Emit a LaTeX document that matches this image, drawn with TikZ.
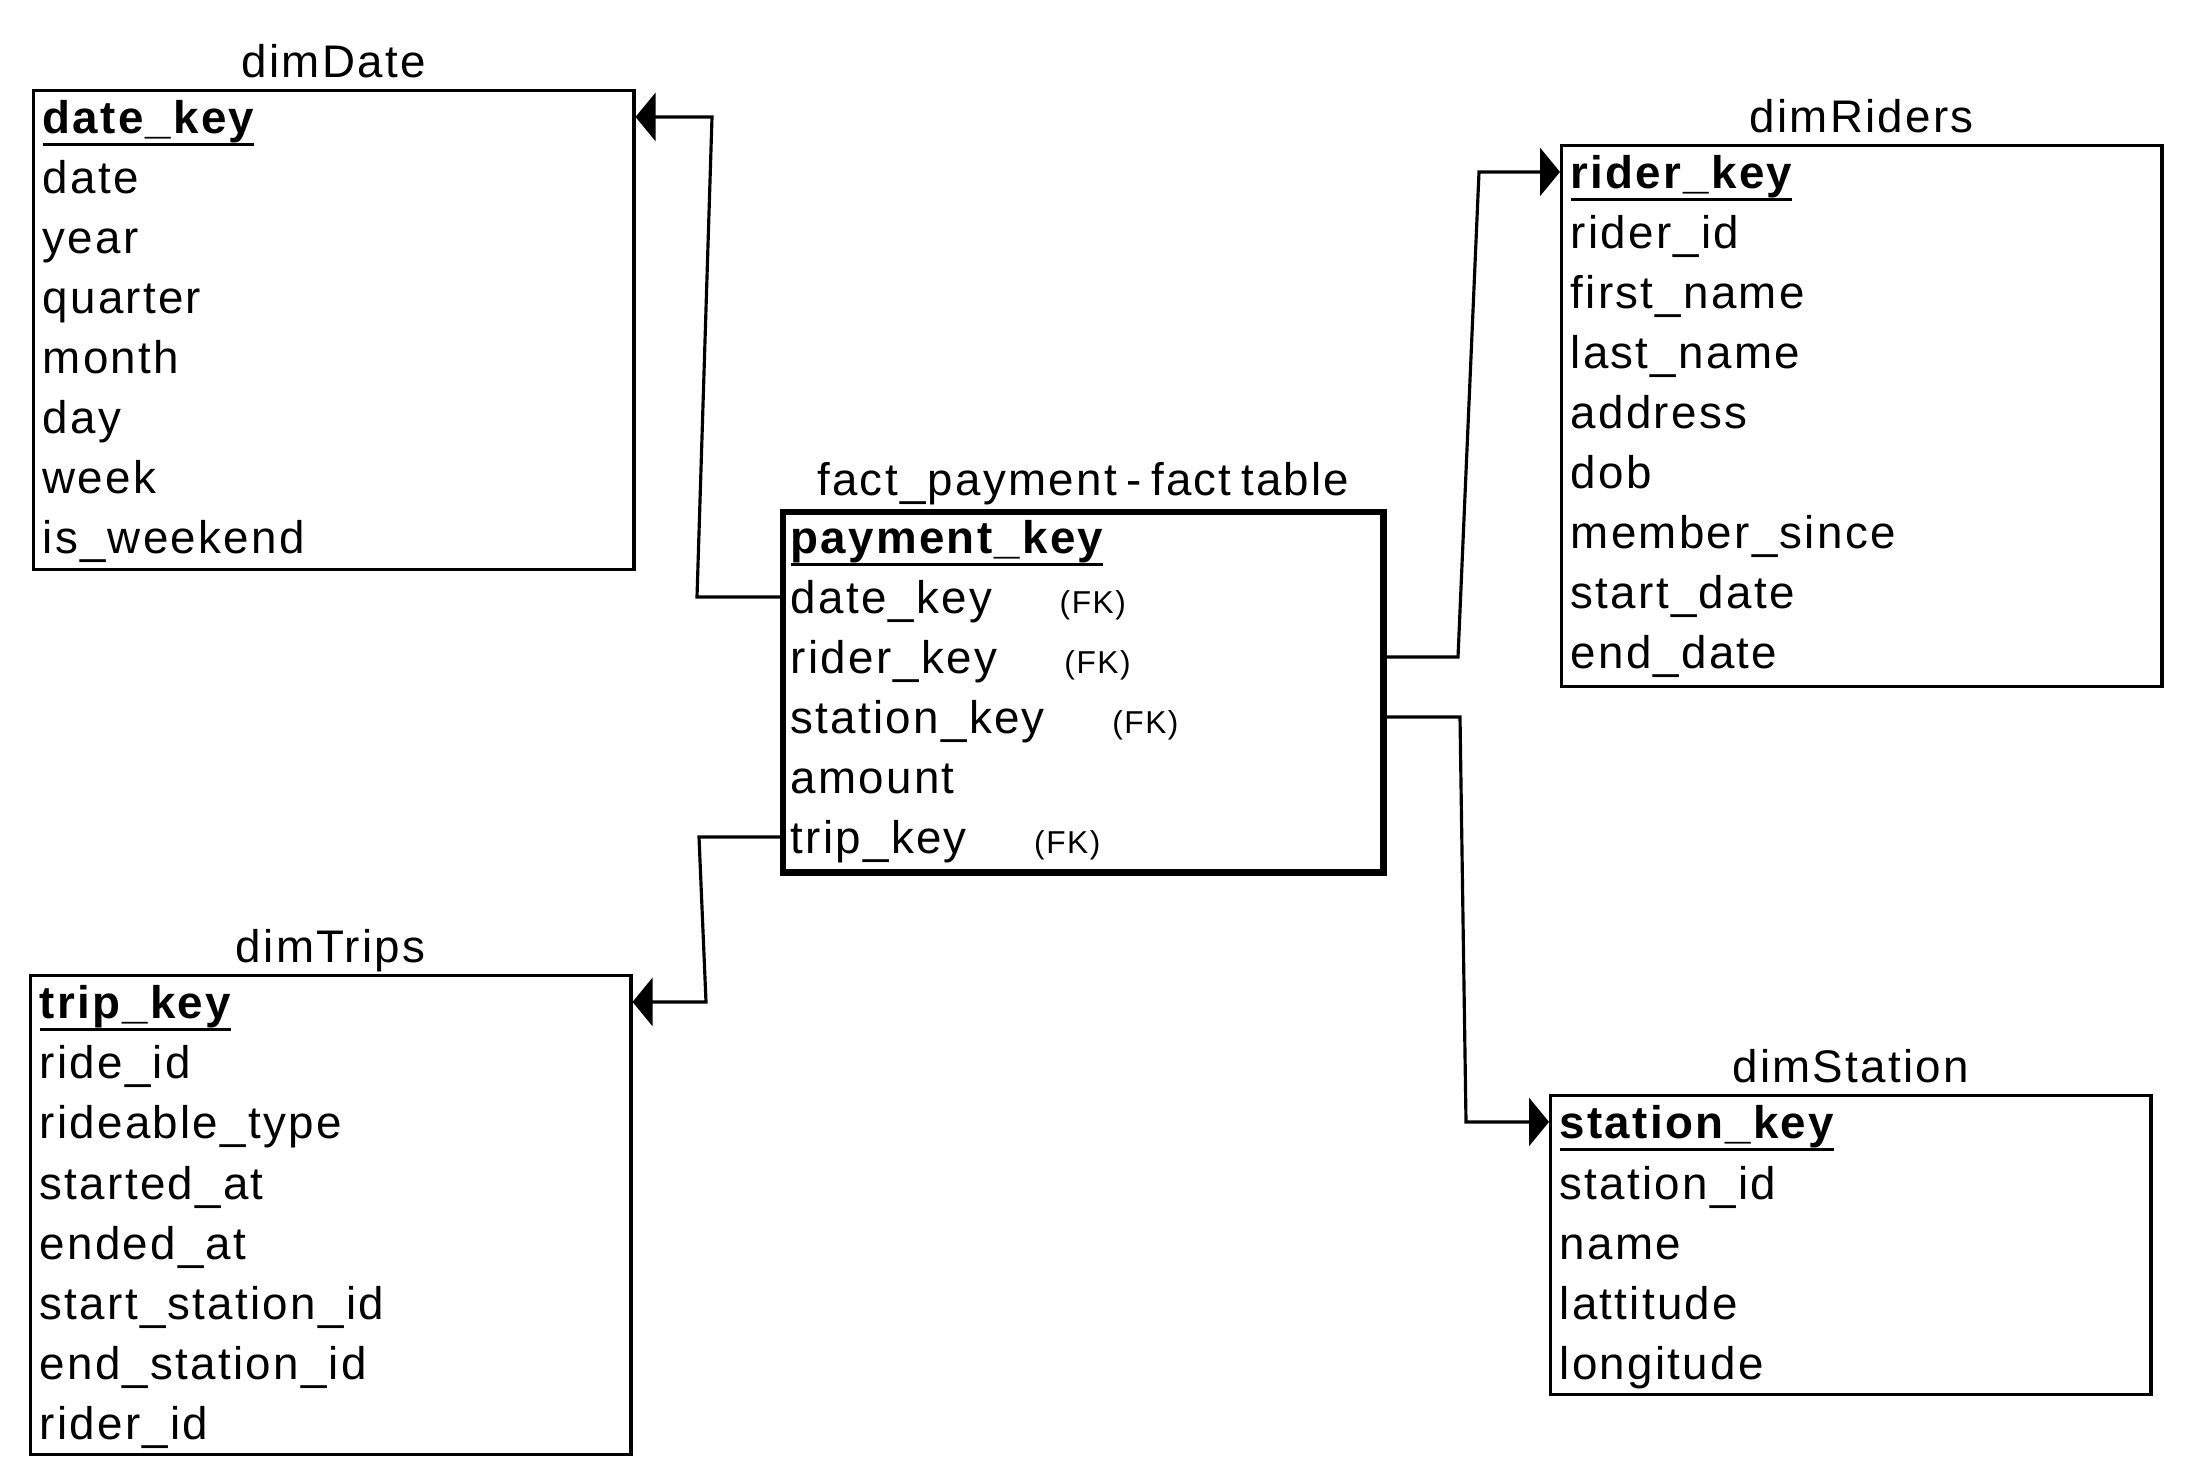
\documentclass[tikz,border=0pt]{standalone}
\usepackage{fontspec}
\setmainfont{Liberation Sans}[LetterSpace=5]
\usetikzlibrary{positioning, arrows.meta}

\newcommand\tableFont{\fontsize{13}{15.6}\selectfont}
\newcommand\fkFont{\fontsize{9}{10.8}\selectfont}
\newcommand\pkName[1]{\setbox0=\hbox{#1}\rlap{\rule[-3.3pt]{\wd0}{.8pt}}\box0}

\tikzset{
	dimTable/.style={draw, line width=.9pt, minimum width=6cm, inner sep=0pt, anchor=north west},
	factTable/.style={dimTable, line width=1.8pt},
	tableName/.style={anchor=base, inner sep=0pt, font={\tableFont\spaceskip=2.7pt}},
	field/.style={anchor=base west, inner sep=0pt, text height=11.5pt, text depth=1.8pt, font=\tableFont},
	keyField/.style={field, font=\tableFont\bfseries},
	fkTag/.style={anchor=base west, inner sep=0pt, font=\fkFont},
	relation/.style={line width=.9pt, -{Triangle[length=2mm, width=4.8mm]}}
}

\begin{document}
\begin{tikzpicture}[x=0.01cm, y=-0.01cm]
\useasboundingbox (0,0) rectangle (2188,1480);

% tables
\node[dimTable, minimum height=4.79cm] (dimDate) at (32,89) {};
\node[factTable, minimum height=3.6cm] (fact) at (780,509) {};
\node[dimTable, minimum height=5.41cm] (dimRiders) at (1560,144) {};
\node[dimTable, minimum height=4.79cm] (dimTrips) at (29,974) {};
\node[dimTable, minimum height=2.99cm] (dimStation) at (1549,1094) {};

\node[tableName] (dimDateName) at ([yshift=1.1mm]dimDate.north) {dimDate};
\node[tableName] (factName) at ([yshift=1.3mm]fact.north) {fact\_payment - fact table};
\node[tableName] (dimRidersName) at ([yshift=1.1mm]dimRiders.north) {dimRiders};
\node[tableName] (dimTripsName) at ([yshift=1.1mm]dimTrips.north) {dimTrips};
\node[tableName] (dimStationName) at ([yshift=1.1mm]dimStation.north) {dimStation};

% dimDate
\node[keyField] (dimDate-1) at ([shift={(10,45)}]dimDate.north west) {\pkName{date\_key}};
\foreach \f [count=\i from 2] in {date, year, quarter, month, day, week, is\_weekend}
	\node[field] (dimDate-\i) at ([shift={(10,60*\i-15)}]dimDate.north west) {\f};

% fact_payment
\node[keyField] (fact-1) at ([shift={(10,45)}]fact.north west) {\pkName{payment\_key}};
\foreach \f [count=\i from 2] in {date\_key, rider\_key, station\_key, amount, trip\_key}
	\node[field] (fact-\i) at ([shift={(10,60*\i-15)}]fact.north west) {\f};
\foreach \i in {2,3,4,6}
	\node[fkTag] (fact-\i-fk) at ([xshift=6.6mm]fact-\i.base east) {(FK)};

% dimRiders
\node[keyField] (dimRiders-1) at ([shift={(10,45)}]dimRiders.north west) {\pkName{rider\_key}};
\foreach \f [count=\i from 2] in {rider\_id, first\_name, last\_name, address, dob, member\_since, start\_date, end\_date}
	\node[field] (dimRiders-\i) at ([shift={(10,60*\i-15)}]dimRiders.north west) {\f};

% dimTrips
\node[keyField] (dimTrips-1) at ([shift={(10,45)}]dimTrips.north west) {\pkName{trip\_key}};
\foreach \f [count=\i from 2] in {ride\_id, rideable\_type, started\_at, ended\_at, start\_station\_id, end\_station\_id, rider\_id}
	\node[field] (dimTrips-\i) at ([shift={(10,60*\i-15)}]dimTrips.north west) {\f};

% dimStation
\node[keyField] (dimStation-1) at ([shift={(10,45)}]dimStation.north west) {\pkName{station\_key}};
\foreach \f [count=\i from 2] in {station\_id, name, lattitude, longitude}
	\node[field] (dimStation-\i) at ([shift={(10,60*\i-15)}]dimStation.north west) {\f};

% relations
\draw[relation] (fact.west |- fact-2.west) -- (697,0 |- fact-2.west) -- (712,0 |- dimDate-1.west) -- (dimDate.east |- dimDate-1.west);
\draw[relation] (fact.east |- fact-3.west) -- (1458,0 |- fact-3.west) -- (1479,0 |- dimRiders-1.west) -- (dimRiders.west |- dimRiders-1.west);
\draw[relation] (fact.east |- fact-4.west) -- (1460,0 |- fact-4.west) -- (1466,0 |- dimStation-1.west) -- (dimStation.west |- dimStation-1.west);
\draw[relation] (fact.west |- fact-6.west) -- (699,0 |- fact-6.west) -- (706,0 |- dimTrips-1.west) -- (dimTrips.east |- dimTrips-1.west);
\end{tikzpicture}
\end{document}
